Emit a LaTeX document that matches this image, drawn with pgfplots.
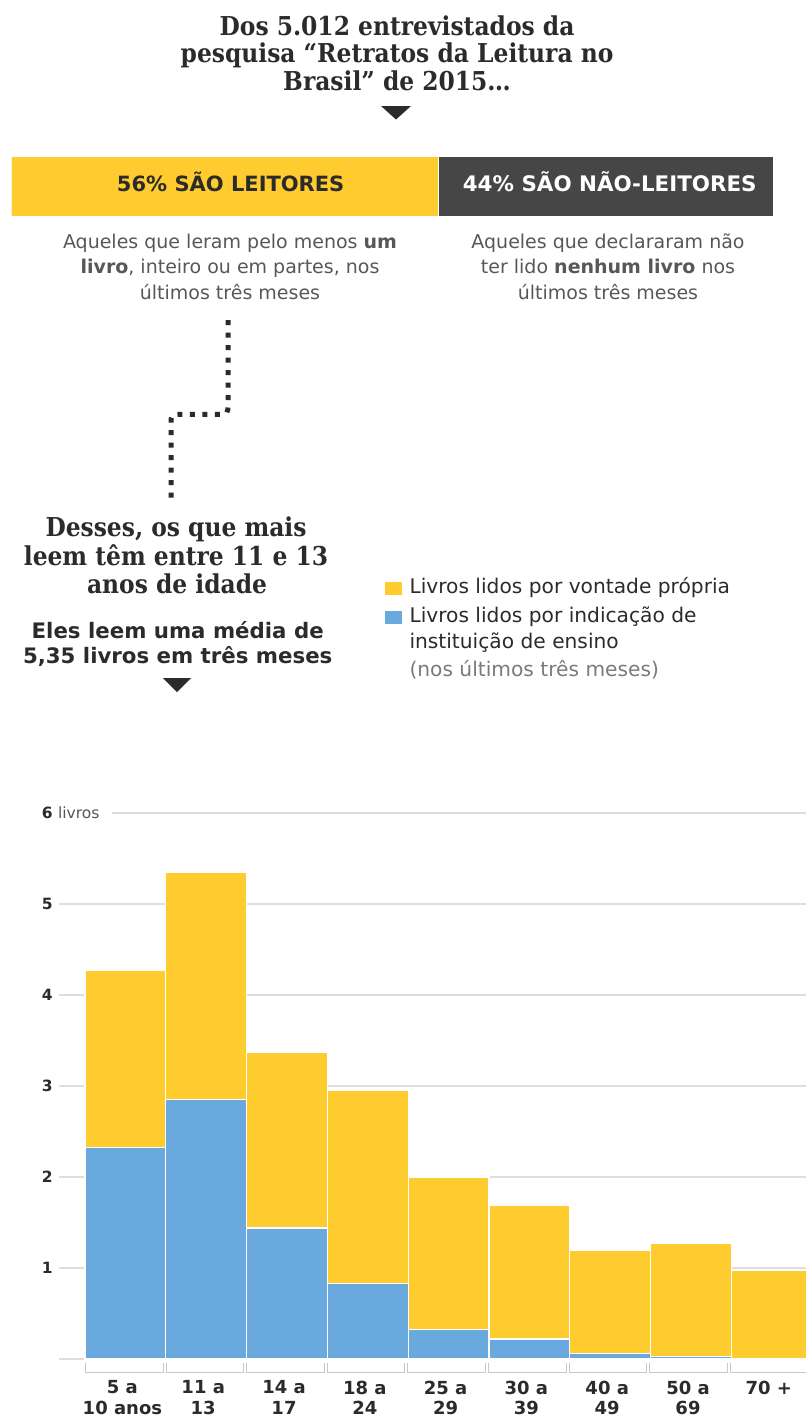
\documentclass[border=0pt]{standalone}
\usepackage{fontspec}
\setmainfont{DejaVu Sans}
\newfontfamily\slab{DejaVu Serif Condensed}
\usepackage{graphicx}
\usepackage{pgfplots}
\pgfplotsset{compat=1.18}

\definecolor{yel}{HTML}{FECC2E}
\definecolor{blu}{HTML}{6AA9DD}
\definecolor{dk}{HTML}{464646}
\definecolor{txt}{HTML}{2B2B2B}
\definecolor{sub}{HTML}{575757}
\definecolor{lgt}{HTML}{7A7A7A}
\definecolor{gridc}{HTML}{DEDEDE}
\definecolor{brk}{HTML}{C8C8C8}

\newcommand{\fs}[2]{\fontsize{#1bp}{#2bp}\selectfont}

\begin{document}
\begin{tikzpicture}
\useasboundingbox (0bp,0bp) rectangle (806bp,-1417bp);
\clip (0bp,0bp) rectangle (806bp,-1417bp);
\begin{scope}[x=1bp,y=-1bp]

% title
\node[anchor=base,text=txt] at (393,35) {\slab\bfseries\fs{26}{28} Dos 5.012 entrevistados da};
\node[anchor=base,text=txt] at (393,62.5) {\slab\bfseries\fs{26}{28} pesquisa “Retratos da Leitura no};
\node[anchor=base,text=txt] at (393,90) {\slab\bfseries\fs{26}{28} Brasil” de 2015…};
\fill[txt] (381,106) -- (411,106) -- (396,119.5) -- cycle;

% subtexts
\node[anchor=base,text=sub] at (227,248.3) {\fs{19}{24} Aqueles que leram pelo menos \textbf{um}};
\node[anchor=base,text=sub] at (227,273.3) {\fs{19}{24} \textbf{livro}, inteiro ou em partes, nos};
\node[anchor=base,text=sub] at (227,299) {\fs{19}{24} últimos três meses};
\node[anchor=base,text=sub] at (605,248.3) {\fs{19}{24} Aqueles que declararam não};
\node[anchor=base,text=sub] at (605,273.3) {\fs{19}{24} ter lido \textbf{nenhum livro} nos};
\node[anchor=base,text=sub] at (605,299) {\fs{19}{24} últimos três meses};

% dotted connector
\draw[txt, line width=5bp, dash pattern=on 5bp off 7.5bp]
  (228,320) -- (228,403) .. controls (228,414.3) .. (217,414.3) -- (182,414.3)
  .. controls (171,414.3) .. (171,425) -- (171,498);

% left block
\node[anchor=base,text=txt] at (172,536.7) {\slab\bfseries\fs{26}{28} Desses, os que mais};
\node[anchor=base,text=txt] at (172,565) {\slab\bfseries\fs{26}{28} leem têm entre 11 e 13};
\node[anchor=base,text=txt] at (173,593.3) {\slab\bfseries\fs{26}{28} anos de idade};
\node[anchor=base,text=txt] at (174,638.3) {\bfseries\fs{21.3}{24} Eles leem uma média de};
\node[anchor=base,text=txt] at (174,663.3) {\bfseries\fs{21.3}{24} 5,35 livros em três meses};
\fill[txt] (163,678) -- (191,678) -- (177,692) -- cycle;

% legend
\fill[yel] (385,581.7) rectangle (401.7,595);
\fill[blu] (385,611) rectangle (401.7,624.3);
\node[anchor=base west,inner sep=0pt,text=txt] at (409.3,593.3) {\fs{20.2}{24}Livros lidos por vontade própria};
\node[anchor=base west,inner sep=0pt,text=txt] at (409.3,622.7) {\fs{20.2}{24}Livros lidos por indicação de};
\node[anchor=base west,inner sep=0pt,text=txt] at (409.3,648.3) {\fs{20.2}{24}instituição de ensino};
\node[anchor=base west,inner sep=0pt,text=lgt] at (409.3,676) {\fs{20.2}{24}(nos últimos três meses)};

% brackets under bars
\foreach \i in {0,...,8} {
  \pgfmathsetmacro\xl{84+80.6*\i+1.5}
  \pgfmathsetmacro\xr{84+80.6*\i+79}
  \draw[brk, line width=1bp] (\xl,1362.5) -- (\xl,1372) -- (\xr,1372) -- (\xr,1362.5);
}
\end{scope}

% top split bar: readers vs non-readers
\begin{axis}[
  at={(11.3bp,-216.7bp)}, anchor=south west, scale only axis,
  width=762.5bp, height=60bp,
  xbar stacked, bar width=1,
  xmin=0, xmax=100, ymin=0.5, ymax=1.5,
  hide axis,
]
\addplot[fill=yel, draw=white, line width=1.3bp] coordinates {(56,1)};
\addplot[fill=dk, draw=white, line width=1.3bp] coordinates {(44,1)};
\end{axis}

% main chart (right end runs past the page edge, as in the original)
\begin{axis}[
  at={(59bp,-1363.55bp)}, anchor=south west, scale only axis,
  width=753.2bp, height=555.1bp,
  xmin=-0.822, xmax=8.5, ymin=-0.05, ymax=6.05,
  ybar stacked, bar width=1,
  axis line style={draw=none}, major tick length=0pt,
  ytick={0,1,2,3,4,5,6},
  yticklabels={,1,2,3,4,5,{6 {\mdseries\color{sub}livros}\hspace*{13bp}}},
  ymajorgrids, grid style={draw=gridc, line width=2.5bp},
  yticklabel style={anchor=west, xshift=-17.3bp, inner sep=0pt, fill=white,
    font=\bfseries\fs{15.5}{17}, text=txt},
  xtick={0,1,2,3,4,5,6,7,8},
  xticklabels={{5 a\\10 anos},{11 a\\13},{14 a\\17},{18 a\\24},{25 a\\29},{30 a\\39},{40 a\\49},{50 a\\69},{70 +}},
  xticklabel style={align=center, anchor=north, inner sep=0pt, yshift=-17bp, xshift=-3bp,
    font=\bfseries\fs{18}{20.7}, text=txt},
]
\addplot[fill=blu, draw=white, line width=1.2bp] coordinates
  {(0,2.32) (1,2.85) (2,1.44) (3,0.83) (4,0.32) (5,0.22) (6,0.06) (7,0.03) (8,0)};
\addplot[fill=yel, draw=white, line width=1.2bp] coordinates
  {(0,1.95) (1,2.50) (2,1.93) (3,2.12) (4,1.68) (5,1.47) (6,1.13) (7,1.24) (8,0.97)};
\end{axis}

% texts on the split bar (drawn after it)
\begin{scope}[x=1bp,y=-1bp]
\node[anchor=base,text=txt] at (227,191.7) {\bfseries\fs{21}{24} 56\% SÃO LEITORES};
\node[anchor=base,text=white] at (606,191.7) {\bfseries\fs{21.4}{24} 44\% SÃO NÃO-LEITORES};
\end{scope}
\end{tikzpicture}
\end{document}
